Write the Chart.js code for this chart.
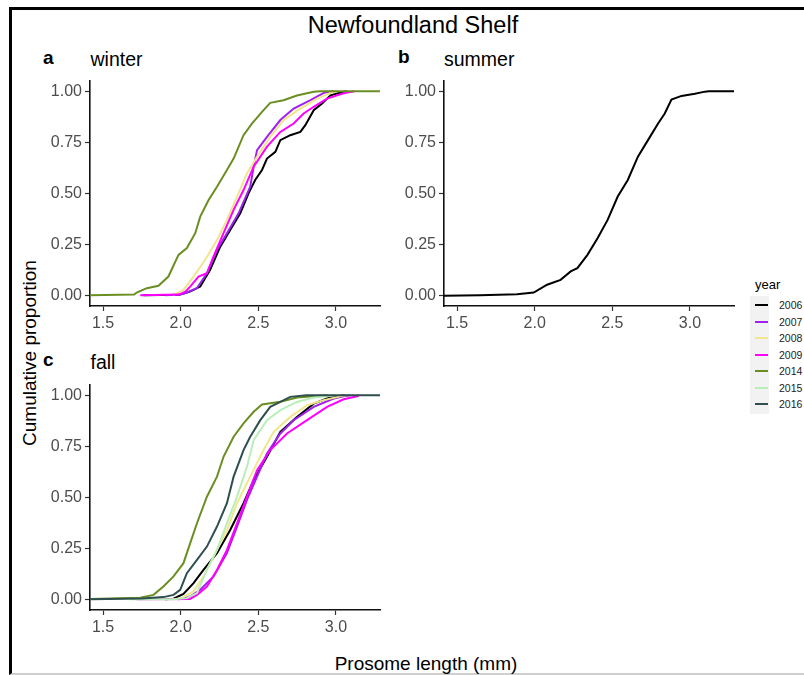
<!DOCTYPE html>
<html>
<head>
<meta charset="utf-8">
<script src="https://cdn.jsdelivr.net/npm/chart.js@4.4.1/dist/chart.umd.min.js"></script>
<style>
body{margin:0;background:#fff;font-family:"Liberation Sans",Arial,sans-serif;width:804px;height:675px;overflow:hidden;position:relative}
.frame{position:absolute;left:9px;top:7px;width:900px;height:663px;border-left:3px solid #000;border-top:3px solid #000;border-bottom:2px solid #cfcfcf}
canvas{position:absolute}
.txt{position:absolute;white-space:nowrap;line-height:1;color:#000}
.tag{font-weight:bold;font-size:19px}
.ptitle{font-size:19.5px}
#legend{position:absolute;left:750px;top:277px}
#legend .ttl{font-size:13px;margin-left:5px;height:19px}
#legend .keys{background:#f2f2f2;width:19px;padding:1px 0}
.row{position:relative;height:16.5px}
.row i{position:absolute;left:5px;top:7px;width:13px;height:2px}
.row span{position:absolute;left:29px;top:2px;font-size:10.5px;color:#222}
</style>
</head>
<body>
<div class="frame"></div>

<div class="txt" style="left:0;width:826px;text-align:center;top:13.5px;font-size:23.5px">Newfoundland Shelf</div>

<div class="txt tag" style="left:43px;top:47.5px">a</div>
<div class="txt ptitle" style="left:90.5px;top:50px">winter</div>
<div class="txt tag" style="left:398px;top:47px">b</div>
<div class="txt ptitle" style="left:444px;top:50px">summer</div>
<div class="txt tag" style="left:43px;top:350px">c</div>
<div class="txt ptitle" style="left:90.5px;top:353px">fall</div>

<div class="txt" style="left:28.5px;top:353px;font-size:19px;transform:translate(-50%,-50%) rotate(-90deg)">Cumulative proportion</div>
<div class="txt" style="left:0;width:852px;text-align:center;top:654px;font-size:19px">Prosome length (mm)</div>

<canvas id="winterChart" width="344" height="260" style="left:40px;top:76px"></canvas>
<canvas id="summerChart" width="344" height="260" style="left:394px;top:76px"></canvas>
<canvas id="fallChart" width="344" height="260" style="left:40px;top:380px"></canvas>

<div id="legend"></div>

<script>
// axis ticks
const xTicks = [1.5, 2.0, 2.5, 3.0]
const yTicks = [0, 0.25, 0.5, 0.75, 1]

const years = ["2006","2007","2008","2009","2014","2015","2016"]
const yearColors = ["#000000","#a020f0","#f0e68c","#ff00ff","#6b8e23","#b9eeb9","#2f4f4f"]

// ECDF curves, [length, cumulative proportion]
const winter2006 = [[1.76,0.003],[1.99,0.005],[2.06,0.02],[2.126,0.045],[2.19,0.127],[2.255,0.24],[2.319,0.322],[2.384,0.403],[2.437,0.501],[2.48,0.566],[2.524,0.615],[2.556,0.671],[2.61,0.704],[2.642,0.761],[2.706,0.785],[2.771,0.801],[2.803,0.834],[2.857,0.907],[2.911,0.94],[2.965,0.98],[3.05,0.997],[3.07,1]]
const winter2007 = [[1.9,0.003],[2.0,0.006],[2.04,0.016],[2.104,0.037],[2.169,0.11],[2.234,0.224],[2.298,0.306],[2.373,0.403],[2.448,0.533],[2.47,0.63],[2.492,0.712],[2.556,0.777],[2.642,0.859],[2.728,0.915],[2.836,0.956],[2.922,0.992],[2.98,1]]
const winter2008 = [[1.95,0.003],[2.018,0.029],[2.083,0.094],[2.158,0.176],[2.234,0.273],[2.298,0.371],[2.363,0.485],[2.427,0.598],[2.492,0.68],[2.577,0.777],[2.663,0.859],[2.771,0.915],[2.879,0.964],[2.965,0.992],[3.0,1]]
const winter2009 = [[1.74,0.003],[1.99,0.006],[2.03,0.02],[2.061,0.045],[2.115,0.094],[2.169,0.11],[2.212,0.192],[2.276,0.306],[2.341,0.42],[2.405,0.517],[2.47,0.631],[2.556,0.729],[2.642,0.801],[2.728,0.842],[2.792,0.891],[2.857,0.924],[2.943,0.964],[3.05,0.99],[3.12,1]]
const winter2014 = [[1.40,0.003],[1.70,0.006],[1.717,0.016],[1.782,0.037],[1.857,0.049],[1.921,0.094],[1.986,0.2],[2.04,0.233],[2.094,0.306],[2.126,0.387],[2.18,0.468],[2.234,0.533],[2.298,0.615],[2.341,0.671],[2.405,0.785],[2.459,0.842],[2.524,0.899],[2.577,0.943],[2.663,0.956],[2.749,0.979],[2.857,0.997],[2.9,1],[3.4,1]]

const summer2006 = [[1.40,0],[1.647,0.003],[1.886,0.007],[1.994,0.016],[2.08,0.054],[2.167,0.078],[2.232,0.119],[2.275,0.135],[2.34,0.2],[2.405,0.281],[2.47,0.371],[2.535,0.485],[2.6,0.566],[2.665,0.68],[2.73,0.761],[2.795,0.842],[2.838,0.891],[2.881,0.959],[2.946,0.977],[3.032,0.988],[3.097,0.998],[3.12,1],[3.4,1]]

const fall2006 = [[1.9,0.003],[1.954,0.005],[2.018,0.029],[2.083,0.081],[2.147,0.146],[2.234,0.228],[2.319,0.341],[2.405,0.472],[2.47,0.585],[2.556,0.699],[2.642,0.821],[2.749,0.894],[2.857,0.959],[2.943,0.984],[3.03,0.998],[3.06,1]]
const fall2007 = [[1.98,0.003],[2.018,0.005],[2.061,0.016],[2.126,0.049],[2.212,0.114],[2.298,0.228],[2.363,0.358],[2.427,0.488],[2.492,0.602],[2.556,0.715],[2.642,0.813],[2.728,0.878],[2.857,0.943],[2.986,0.984],[3.07,0.998],[3.09,1]]
const fall2008 = [[1.95,0.003],[1.997,0.006],[2.083,0.041],[2.147,0.114],[2.212,0.211],[2.298,0.341],[2.363,0.472],[2.448,0.602],[2.534,0.732],[2.599,0.821],[2.706,0.894],[2.814,0.951],[2.921,0.976],[3.05,0.998],[3.07,1]]
const fall2009 = [[1.717,0.002],[2.06,0.004],[2.105,0.024],[2.169,0.065],[2.234,0.146],[2.298,0.244],[2.363,0.374],[2.427,0.504],[2.492,0.634],[2.577,0.732],[2.685,0.813],[2.814,0.878],[2.943,0.943],[3.05,0.98],[3.137,0.995],[3.15,1]]
const fall2014 = [[1.40,0.004],[1.739,0.01],[1.825,0.024],[1.889,0.065],[1.954,0.114],[2.018,0.179],[2.061,0.276],[2.105,0.374],[2.169,0.504],[2.234,0.602],[2.276,0.699],[2.341,0.797],[2.405,0.862],[2.47,0.919],[2.524,0.955],[2.642,0.968],[2.75,0.989],[2.9,0.997],[2.95,1]]
const fall2015 = [[1.674,0.002],[1.954,0.003],[2.04,0.008],[2.105,0.033],[2.169,0.146],[2.234,0.244],[2.298,0.374],[2.363,0.504],[2.427,0.65],[2.47,0.78],[2.556,0.878],[2.642,0.927],[2.749,0.967],[2.857,0.989],[2.965,0.998],[3.0,1]]
const fall2016 = [[1.40,0.003],[1.75,0.006],[1.889,0.013],[1.954,0.024],[1.997,0.049],[2.04,0.13],[2.105,0.195],[2.169,0.26],[2.234,0.358],[2.298,0.472],[2.341,0.602],[2.405,0.732],[2.448,0.797],[2.513,0.878],[2.577,0.943],[2.642,0.967],[2.706,0.992],[2.81,1],[3.4,1]]

const winterSeries = {"2006":winter2006,"2007":winter2007,"2008":winter2008,"2009":winter2009,"2014":winter2014}
const summerSeries = {"2006":summer2006}
const fallSeries = {"2006":fall2006,"2007":fall2007,"2008":fall2008,"2009":fall2009,"2014":fall2014,"2015":fall2015,"2016":fall2016}

Chart.defaults.font.family = '"Liberation Sans", Arial, sans-serif'
Chart.defaults.animation = false

// keep the plot area where the original has it: no extra label padding
function noPad(s){
s.paddingTop = 0
s.paddingBottom = 0
s.paddingLeft = 0
s.paddingRight = 0
}

function makePanel(id, series){

const datasets = []
years.forEach((yr, i) => {
if(!series[yr]) return
// later years go on top, like the original
datasets.unshift({
label: yr,
data: series[yr].map(p => ({x:p[0], y:p[1]})),
borderColor: yearColors[i],
borderWidth: 2,
pointRadius: 0,
tension: 0,
fill: false
})
})

new Chart(document.getElementById(id), {
type: "line",
data: {datasets: datasets},
options: {
responsive: false,
layout: {padding: {top:5, right:4, left:0, bottom:0}},
plugins: {legend:{display:false}, tooltip:{enabled:false}},
scales: {
x: {
type: "linear",
min: 1.416, max: 3.284,
afterBuildTicks: s => { s.ticks = xTicks.map(v => ({value:v})) },
afterFit: s => { s.height = 30; noPad(s) },
border: {display:true, color:"#111", width:1.6},
grid: {display:true, drawOnChartArea:false, drawTicks:true, tickLength:5, tickColor:"#333", tickWidth:1.2},
ticks: {color:"#4d4d4d", font:{size:16}, padding:3, maxRotation:0, callback: v => v.toFixed(1)}
},
y: {
min: -0.05, max: 1.05,
afterBuildTicks: s => { s.ticks = yTicks.map(v => ({value:v})) },
afterFit: s => { s.width = 50; noPad(s) },
border: {display:true, color:"#111", width:1.6},
grid: {display:true, drawOnChartArea:false, drawTicks:true, tickLength:5, tickColor:"#333", tickWidth:1.2},
ticks: {color:"#4d4d4d", font:{size:16}, padding:3, callback: v => v.toFixed(2)}
}
}
}
})

}

makePanel("winterChart", winterSeries)
makePanel("summerChart", summerSeries)
makePanel("fallChart", fallSeries)

// legend
const legend = document.getElementById("legend")
let html = '<div class="ttl">year</div><div class="keys">'
years.forEach((yr, i) => {
html += `<div class="row"><i style="background:${yearColors[i]}"></i><span>${yr}</span></div>`
})
html += '</div>'
legend.innerHTML = html
</script>
</body>
</html>
